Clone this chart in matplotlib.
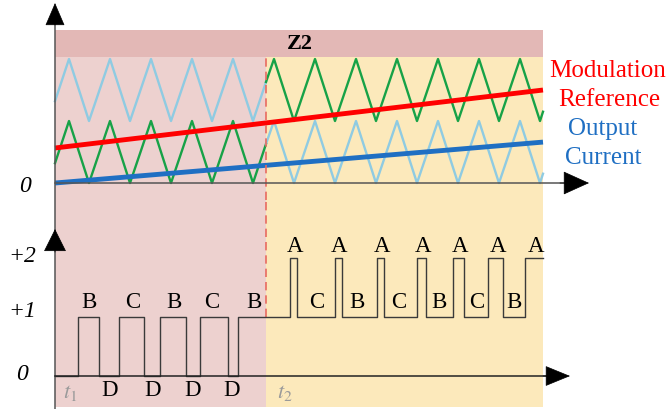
import matplotlib
matplotlib.use("Agg")
import matplotlib.pyplot as plt

plt.rcParams['font.family'] = ['Liberation Serif', 'DejaVu Serif']
plt.rcParams['mathtext.fontset'] = 'stix'

# time axis (arbitrary units), zone boundary and end of the window
t_switch = 211
t_end = 488

# triangular carrier (0..1 band), vertices
carrier_t = [0, 14, 34, 55, 75, 96, 116, 137, 157, 178, 198, 211,
             219, 239, 260, 280, 301, 321, 342, 362, 383, 403, 424, 444,
             465, 485, 488]
carrier_v = [0.32, 1, 0, 1, 0, 1, 0, 1, 0, 1, 0, 0.63,
             1, 0, 1, 0, 1, 0, 1, 0, 1, 0, 1, 0,
             1, 0, 0.15]

# straight references
mod_ref_t = [0, 488]
mod_ref_v = [0.565, 1.5]
out_cur_t = [0, 488]
out_cur_v = [0.0, 0.66]

# output level (0, +1, +2)
pulse_t = [0, 23, 44, 64, 89, 105, 131, 145, 173, 183, 235, 242, 280, 287,
           322, 329, 362, 371, 398, 409, 433, 448, 470, 488]
pulse_level = [0, 1, 0, 1, 0, 1, 0, 1, 0, 1, 2, 1, 2, 1,
               2, 1, 2, 1, 2, 1, 2, 1, 2, 2]

# switching state letters
state_t = [34, 78, 119, 157, 199, 55, 98, 138, 177,
           240, 284, 327, 368, 405, 443, 481,
           262, 302, 344, 384, 422, 459]
state_txt = ['B', 'C', 'B', 'C', 'B', 'D', 'D', 'D', 'D',
             'A', 'A', 'A', 'A', 'A', 'A', 'A',
             'C', 'B', 'C', 'B', 'C', 'B']
state_y = [1.25] * 5 + [-0.25] * 4 + [2.19] * 7 + [1.25] * 6

level_ticks = [2, 1, 0]
level_labels = ['+2', '+1', '0']

c_pink = '#EDD1CF'
c_band = '#E3B8B6'
c_yellow = '#FCE9BB'
c_lblue = '#8FCBE2'
c_green = '#17A247'
c_axis = '#555555'

fig = plt.figure(figsize=(6.69, 4.09), dpi=100)
ax1 = fig.add_axes([0, 209 / 409, 1, 200 / 409])
ax2 = fig.add_axes([0, 0, 1, 209 / 409])
for ax in (ax1, ax2):
    ax.set_xlim(-55, 614)
    ax.axis('off')
ax1.set_ylim(-0.274, 2.952)
ax2.set_ylim(-0.559, 2.983)

# background zones
ax1.fill_between([0, t_end], 2.03, 2.47, color=c_band, lw=0)
ax1.fill_between([0, t_switch], -0.274, 2.03, color=c_pink, lw=0)
ax1.fill_between([t_switch, t_end], -0.274, 2.03, color=c_yellow, lw=0)
ax2.fill_between([0, t_switch], -0.525, 2.983, color=c_pink, lw=0)
ax2.fill_between([t_switch, t_end], -0.525, 2.983, color=c_yellow, lw=0)
ax1.text(245, 2.25, 'Z2', ha='center', va='center', fontsize=16,
         fontweight='bold')

# carriers: upper one light blue before the switch, green after
i = carrier_t.index(t_switch)
lo_a, lo_b = carrier_t[:i + 1], carrier_t[i:]
va_a, va_b = carrier_v[:i + 1], carrier_v[i:]
ax1.plot(lo_a, [v + 1 for v in va_a], color=c_lblue, lw=1.7)
ax1.plot(lo_a, va_a, color=c_green, lw=1.7)
ax1.plot(lo_b, [v + 1 for v in va_b], color=c_green, lw=1.7)
ax1.plot(lo_b, va_b, color=c_lblue, lw=1.7)

ax1.plot(mod_ref_t, mod_ref_v, color='#FF0000', lw=3.5,
         solid_capstyle='butt')
ax1.plot(out_cur_t, out_cur_v, color='#1F6FC3', lw=3.5,
         solid_capstyle='butt')

ax1.text(553, 1.81, 'Modulation', color='#FF0000', ha='center',
         va='center', fontsize=18)
ax1.text(554, 1.34, 'Reference', color='#FF0000', ha='center',
         va='center', fontsize=18)
ax1.text(548, 0.87, 'Output', color='#1F6FC3', ha='center',
         va='center', fontsize=18)
ax1.text(548, 0.40, 'Current', color='#1F6FC3', ha='center',
         va='center', fontsize=18)

# zone boundary
ax1.plot([t_switch, t_switch], [-0.274, 2.03], color='#E86A60', lw=1.2,
         ls=(0, (5, 3)))
ax2.plot([t_switch, t_switch], [1, 2.983], color='#E86A60', lw=1.2,
         ls=(0, (5, 3)))

# output level
ax2.step(pulse_t, pulse_level, where='post', color='#3a3a3a', lw=1.0)
for t, s, y in zip(state_t, state_txt, state_y):
    ax2.text(t, y, s, ha='center', va='center', fontsize=16.5)
for v, s in zip(level_ticks, level_labels):
    ax2.text(-33, v + (0.1 if v == 1 else 0.03), s, ha='center',
             va='center', fontsize=17, style='italic')
ax1.text(-30, -0.05, '0', ha='center', va='center', fontsize=17,
         style='italic')
ax2.text(15, -0.29, '$t_1$', color='#9a9a9a', ha='center', va='center',
         fontsize=16)
ax2.text(230, -0.29, '$t_2$', color='#9a9a9a', ha='center', va='center',
         fontsize=16)

# axes lines and arrow heads
ax1.plot([0, 0], [-0.274, 2.6], color=c_axis, lw=1.1)
ax2.plot([0, 0], [-0.559, 2.983], color=c_axis, lw=1.1)
ax1.plot([0, 515], [0, 0], color=c_axis, lw=1.1)
ax2.plot([0, 500], [0, 0], color='#222222', lw=1.1)


def head(ax, tip, tail, hl, hw):
    ax.annotate('', xy=tip, xytext=tail,
                arrowprops=dict(arrowstyle=f'-|>,head_length={hl},head_width={hw}',
                                color='black', lw=0.5, shrinkA=0, shrinkB=0,
                                mutation_scale=15))


head(ax1, (0, 2.903), (0, 2.55), 1.0, 0.43)
head(ax1, (534, 0), (505, 0), 1.15, 0.52)
head(ax2, (0, 2.49), (0, 2.1), 1.0, 0.5)
head(ax2, (515, 0), (488, 0), 1.1, 0.45)

fig.savefig('out.png', dpi=100)
